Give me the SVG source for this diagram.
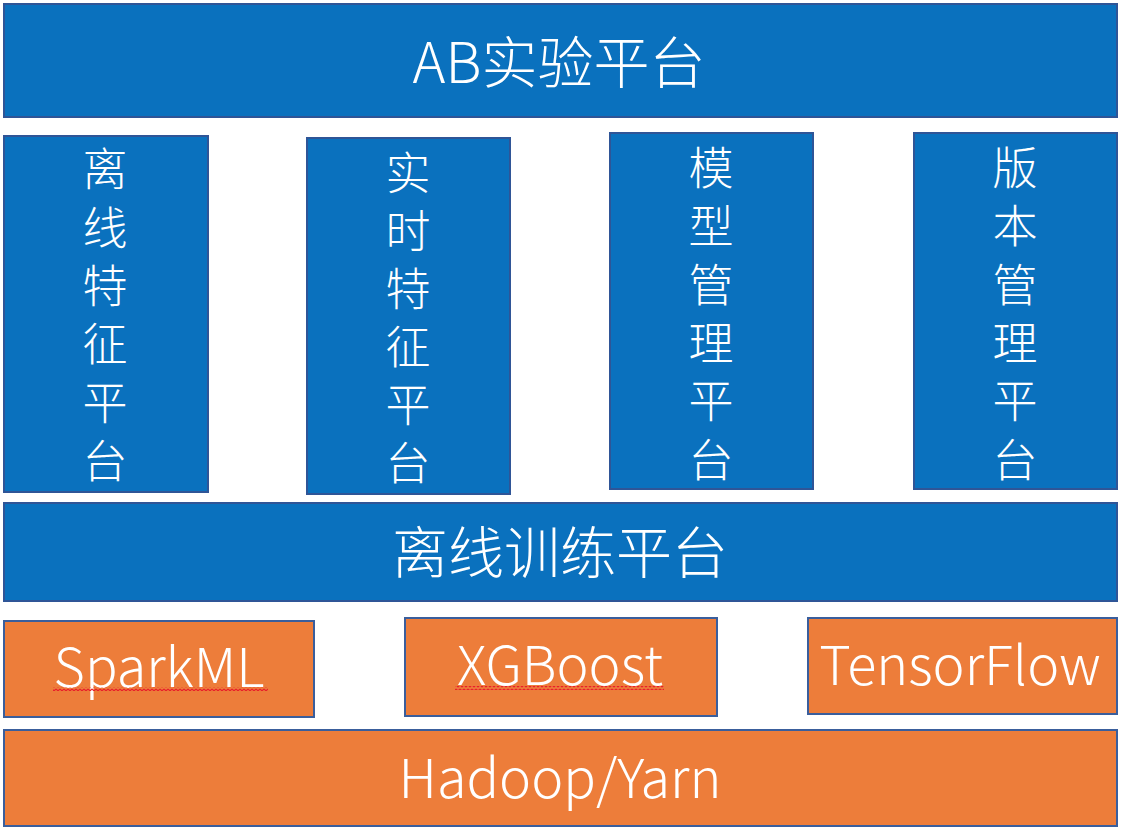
<svg xmlns="http://www.w3.org/2000/svg" width="1136" height="833" viewBox="0 0 1136 833">
<style>
.blue{fill:#0A71BE;stroke:#2F5597;stroke-width:2}
.orange{fill:#ED7D3A;stroke:#3A5E9C;stroke-width:2}
text{fill:#FFFFFF;font-family:"Noto Sans CJK SC","Noto Sans",sans-serif;text-anchor:middle;font-weight:300}
.h{font-size:56px}
.v{font-size:45px}
.l{font-size:54px}
</style>
<defs>
<pattern id="zig" patternUnits="userSpaceOnUse" x="0" y="0" width="4" height="4">
<path d="M0 1 L2 3 L4 1" fill="none" stroke="#E8202A" stroke-width="1.2"/>
</pattern>
</defs>
<rect width="1136" height="833" fill="#FFFFFF"/>
<g id="ab">
<rect class="blue" x="4" y="4" width="1113" height="113"/>
<text class="h" x="559" y="83">AB实验平台</text>
</g>
<g id="offline-feature">
<rect class="blue" x="4" y="136" width="204" height="356"/>
<text class="v" x="105"><tspan x="105" y="186">离</tspan><tspan x="105" y="245">线</tspan><tspan x="105" y="303">特</tspan><tspan x="105" y="361">征</tspan><tspan x="105" y="420">平</tspan><tspan x="105" y="478">台</tspan></text>
</g>
<g id="realtime-feature">
<rect class="blue" x="307" y="138" width="203" height="356"/>
<text class="v" x="408"><tspan x="408" y="190">实</tspan><tspan x="408" y="248">时</tspan><tspan x="408" y="306">特</tspan><tspan x="408" y="364">征</tspan><tspan x="408" y="422">平</tspan><tspan x="408" y="480">台</tspan></text>
</g>
<g id="model-mgmt">
<rect class="blue" x="610" y="133" width="203" height="356"/>
<text class="v" x="711"><tspan x="711" y="185">模</tspan><tspan x="711" y="243">型</tspan><tspan x="711" y="302">管</tspan><tspan x="711" y="360">理</tspan><tspan x="711" y="418">平</tspan><tspan x="711" y="477">台</tspan></text>
</g>
<g id="version-mgmt">
<rect class="blue" x="914" y="133" width="203" height="356"/>
<text class="v" x="1015"><tspan x="1015" y="185">版</tspan><tspan x="1015" y="243">本</tspan><tspan x="1015" y="302">管</tspan><tspan x="1015" y="360">理</tspan><tspan x="1015" y="418">平</tspan><tspan x="1015" y="477">台</tspan></text>
</g>
<g id="training">
<rect class="blue" x="4" y="503" width="1113" height="98"/>
<text class="h" x="560" y="573">离线训练平台</text>
</g>
<g id="sparkml">
<rect class="orange" x="4" y="621" width="310" height="96"/>
<text class="l" x="159" y="687">SparkML</text>
<rect x="53" y="687" width="215" height="4" fill="url(#zig)"/>
</g>
<g id="xgboost">
<rect class="orange" x="405" y="618" width="312" height="98"/>
<text class="l" x="560" y="685">XGBoost</text>
<rect x="455" y="686" width="209" height="4" fill="url(#zig)"/>
</g>
<g id="tensorflow">
<rect class="orange" x="808" y="618" width="309" height="96"/>
<text class="l" x="960" y="685">TensorFlow</text>
</g>
<g id="hadoop">
<rect class="orange" x="4" y="730" width="1113" height="96"/>
<text class="l" x="560" y="798">Hadoop/Yarn</text>
</g>
<g id="connectors"></g>
</svg>
